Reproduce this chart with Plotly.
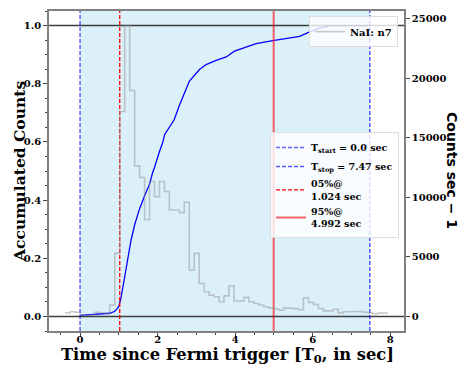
import plotly.graph_objects as go

# light curve (NaI n7), counts per second in 0.128 s bins
bin_start = -0.384
bin_width = 0.128
rate = [
    300, 400, 350, 100, 80, 120, 350, 300, 250, 950,
    5290, 17190, 24400, 18950, 12630, 11650, 8120, 11320, 10050, 11320,
    10480, 8930, 8930, 8710, 9580, 3890, 5290, 2770, 2070, 1790,
    1650, 1230, 1730, 2550, 1290, 1290, 1600, 1230, 1090, 960,
    810, 720, 640, 530, 700, 700, 640, 560, 1570, 1180,
    1000, 670, 470, 470, 610, 300, 390, 390, 420, 420,
    350, 300, 200, 280, 280,
]

# accumulated (normalised) counts
cum_t = [0.0, 0.5, 0.77, 0.885, 0.95, 1.0, 1.05, 1.14, 1.23, 1.31, 1.41, 1.53,
         1.66, 1.79, 1.87, 1.92, 2.05, 2.13, 2.18, 2.43, 2.56, 2.82, 3.08, 3.25,
         3.51, 3.77, 3.98, 4.28, 4.54, 4.97, 5.66, 5.92, 6.18, 6.45, 7.47]
cum_frac = [0.004, 0.007, 0.011, 0.017, 0.025, 0.035, 0.06, 0.127, 0.20, 0.259,
            0.316, 0.368, 0.413, 0.454, 0.494, 0.512, 0.568, 0.597, 0.625, 0.677,
            0.725, 0.809, 0.849, 0.866, 0.880, 0.892, 0.912, 0.925, 0.938, 0.948,
            0.963, 0.978, 0.991, 1.0, 1.0]

t_start = 0.0
t_stop = 7.47
t05 = 1.024
t95 = 4.992

edges = [round(bin_start + i * bin_width, 3) for i in range(len(rate) + 1)]
rate_steps = rate + [rate[-1]]

serif = "DejaVu Serif"
fig = go.Figure()

fig.add_vrect(x0=t_start, x1=t_stop, fillcolor="rgb(220,240,249)", opacity=1,
              line_width=0, layer="below")

fig.add_trace(go.Scatter(
    x=edges, y=rate_steps, mode="lines", line=dict(shape="hv", color="rgba(140,140,140,0.45)", width=1.6),
    name="NaI: n7", yaxis="y2", legend="legend",
))

fig.add_trace(go.Scatter(
    x=cum_t, y=cum_frac, mode="lines", line=dict(color="blue", width=1.3),
    showlegend=False,
))

for yv in [0, 1]:
    fig.add_trace(go.Scatter(
        x=[-0.8, 8.352], y=[yv, yv], mode="lines",
        line=dict(color="rgba(0,0,0,0.75)", width=1.5), showlegend=False, hoverinfo="skip",
    ))

vlines = [
    (t_start, "rgba(0,0,255,0.6)", "dash", 1.5, f"T<sub>start</sub> = {t_start} sec"),
    (t_stop, "rgba(0,0,255,0.65)", "dash", 1.5, f"T<sub>stop</sub> = {t_stop} sec"),
    (t05, "red", "dash", 1.3, f"05%@<br>{t05} sec"),
    (t95, "rgba(255,0,0,0.6)", "solid", 2, f"95%@<br>{t95} sec"),
]
for xv, col, dash, lw, label in vlines:
    fig.add_trace(go.Scatter(
        x=[xv, xv], y=[-0.05, 1.05], mode="lines",
        line=dict(color=col, dash="4px,2px" if dash == "dash" else "solid", width=lw),
        name=label, legend="legend2",
    ))

axis_common = dict(
    showgrid=False, zeroline=False, showline=True, linecolor="#808080", linewidth=1.5,
    ticks="outside", ticklen=4, tickwidth=1.2, tickcolor="#444", automargin=False,
    tickfont=dict(family=serif, size=10, color="black", weight="bold"),
)

# the page puts the figure 8px in from the top-left corner
fig.update_layout(
    width=460, height=367,
    margin=dict(l=41, r=64, t=3, b=44),
    plot_bgcolor="white", paper_bgcolor="white",
    xaxis=dict(
        range=[-0.8, 8.352], dtick=2, mirror=True, ticklabelstandoff=-6,
        minor=dict(dtick=0.5, ticks="outside", ticklen=2, tickcolor="#444"),
        **axis_common,
    ),
    yaxis=dict(
        range=[-0.05, 1.05], dtick=0.2, tickformat=".1f",
        minor=dict(dtick=0.05, ticks="outside", ticklen=2, tickcolor="#444"),
        **axis_common,
    ),
    yaxis2=dict(
        range=[-1220, 25620], dtick=5000, tickformat="d", overlaying="y", side="right",
        **axis_common,
    ),
    legend=dict(
        x=0.983, y=0.984, xanchor="right", yanchor="top",
        bgcolor="rgba(255,255,255,0.8)", bordercolor="#dddddd", borderwidth=1,
        font=dict(family=serif, size=10, color="black", weight="bold"),
        itemwidth=30, tracegroupgap=0,
    ),
    legend2=dict(
        x=0.986, y=0.622, xanchor="right", yanchor="top",
        bgcolor="rgba(255,255,255,0.8)", bordercolor="#dddddd", borderwidth=1,
        font=dict(family=serif, size=9.5, color="black", weight="bold"),
        itemwidth=30, tracegroupgap=0,
    ),
    annotations=[
        dict(text="Time since Fermi trigger [T<sub>0</sub>, in sec]", x=227, y=355,
             font=dict(family=serif, size=16.3, color="black", weight="bold")),
        dict(text="Accumulated Counts", textangle=-90, x=19, y=172,
             font=dict(family=serif, size=15.5, color="black", weight="bold")),
        dict(text="Counts sec \u2212 1", textangle=90, x=452, y=170,
             font=dict(family="DejaVu Sans", size=14, color="black", weight="bold")),
    ],
)

# title positions above are page pixels; convert to paper coordinates
plot_l, plot_r, plot_t, plot_b = 49, 404, 11, 331
for ann in fig.layout.annotations:
    ann.x = (ann.x - plot_l) / (plot_r - plot_l)
    ann.y = (plot_b - ann.y) / (plot_b - plot_t)
    ann.update(xref="paper", yref="paper", xanchor="center", yanchor="middle", showarrow=False)

fig.write_html("out.html")
